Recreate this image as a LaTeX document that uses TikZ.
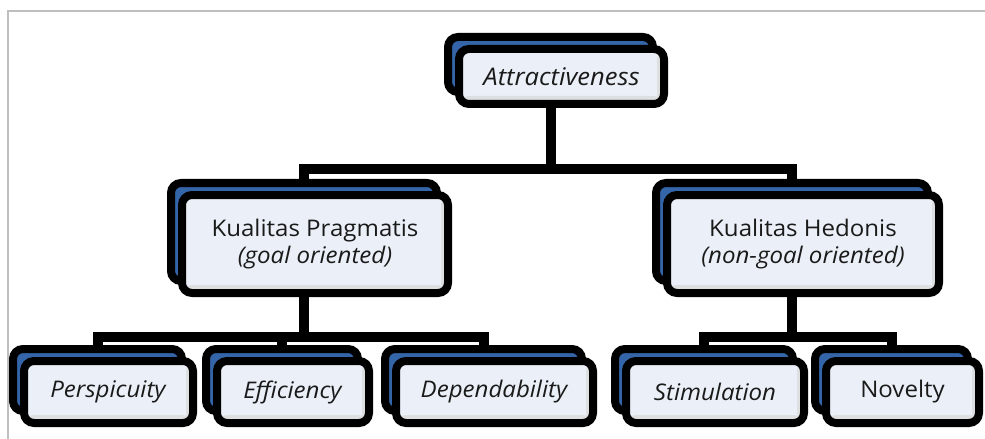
\documentclass[tikz,border=0pt]{standalone}
\usepackage{fontspec}
\setmainfont{Open Sans}[FakeStretch=1.05]
\usetikzlibrary{calc}
\newdimen\pxu \pxu=0.025cm
\definecolor{boxfill}{HTML}{EBF0F8}
\definecolor{boxshade}{HTML}{DEDFE1}
\definecolor{backblue}{HTML}{3465A8}
\definecolor{framegray}{HTML}{BFBFBF}
\definecolor{txt}{HTML}{1A1A1A}
\tikzset{
  box/.style={draw=black, line width=8\pxu, rounded corners=10\pxu, fill=boxfill,
    inner sep=0pt, align=center, font=\fontsize{16.3}{18.6}\selectfont, text=txt,
    path picture={
      \fill[boxshade] ([yshift=8\pxu]path picture bounding box.south west) rectangle (path picture bounding box.south east);
      \fill[boxshade] ([xshift=-7\pxu]path picture bounding box.south east) rectangle (path picture bounding box.north east);
    }},
  backbox/.style={draw=black, line width=8\pxu, rounded corners=10\pxu, fill=backblue, inner sep=0pt},
  conn/.style={draw=black, line width=10\pxu, line cap=rect}
}
\newcommand\backb[5]{%
  \node[backbox, minimum width=#4\pxu, minimum height=#5\pxu] (#1B) at ({#2-11},{#3-12}) {};}
\newcommand\frontb[6]{%
  \node[box, minimum width=#4\pxu, minimum height=#5\pxu] (#1) at (#2,#3) {#6};}
\begin{document}
\begin{tikzpicture}[x=0.025cm, y=-0.025cm]
\useasboundingbox (0,0) rectangle (985,439);
\fill[white] (0,0) rectangle (985,439);
\draw[framegray, line width=1.2\pxu] (8,439) -- (8,11) -- (985,11);

% back copies (name, x, y, w, h)
\backb{a}{561.5}{76.5}{205}{55}
\backb{p}{315}{244}{266}{98}
\backb{h}{803}{244}{272}{98}
\backb{per}{108.5}{392}{169}{62}
\backb{eff}{293}{392}{152}{62}
\backb{dep}{494.5}{392}{197}{62}
\backb{sti}{715}{392}{178}{62}
\backb{nov}{902.5}{392}{153}{62}

% connectors
\path (pB.north) ++(0,-10) coordinate (j1);
\path (perB.north) ++(0,-8) coordinate (j2);
\path (stiB.north) ++(0,-8) coordinate (j3);
\draw[conn] (aB.south) -- (aB.south |- j1);
\draw[conn] (pB.north) |- (j1 -| hB.north) -- (hB.north);
\draw[conn] (pB.south) -- (pB.south |- j2);
\draw[conn] (perB.north) |- (j2 -| depB.north) -- (depB.north);
\draw[conn] (effB.north) -- (effB.north |- j2);
\draw[conn] (hB.south) -- (hB.south |- j3);
\draw[conn] (stiB.north) |- (j3 -| novB.north) -- (novB.north);

% front boxes
\frontb{a}{561.5}{76.5}{205}{55}{\fontsize{17.3}{20}\selectfont\textit{Attractiveness}}
\frontb{p}{315}{244}{266}{98}{Kualitas Pragmatis\\\textit{(goal oriented)}}
\frontb{h}{803}{244}{272}{98}{Kualitas Hedonis\\\textit{(non-goal oriented)}}
\frontb{per}{108.5}{392}{169}{62}{\textit{Perspicuity}}
\frontb{eff}{293}{392}{152}{62}{\textit{Efficiency}}
\frontb{dep}{494.5}{392}{197}{62}{\textit{Dependability}}
\frontb{sti}{715}{392}{178}{62}{\textit{Stimulation}}
\frontb{nov}{902.5}{392}{153}{62}{Novelty}
\end{tikzpicture}
\end{document}
